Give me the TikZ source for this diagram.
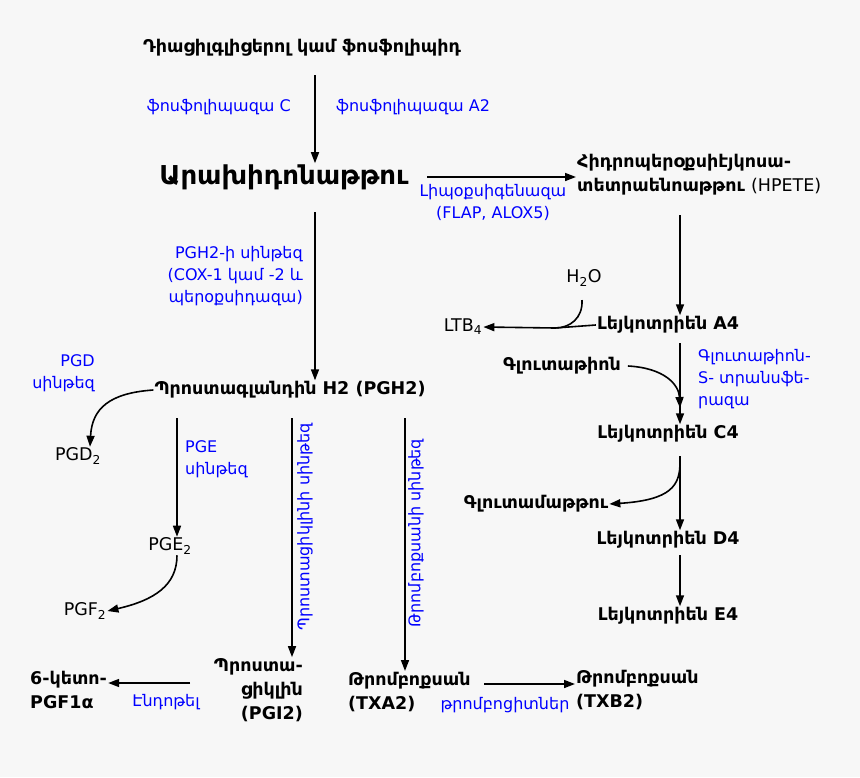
\documentclass[tikz,border=0pt]{standalone}
\usepackage{fontspec}
\setmainfont{DejaVu Sans}
\usetikzlibrary{arrows.meta}
\definecolor{bg}{HTML}{F7F7F7}
\definecolor{lbl}{HTML}{0000FF}
\begin{document}
\begin{tikzpicture}[x=1pt,y=-1pt,
  b/.style={font=\fontsize{17.5}{24}\selectfont\bfseries,inner sep=1pt},
  n/.style={font=\fontsize{17.5}{22}\selectfont,inner sep=1pt},
  e/.style={font=\fontsize{16}{22}\selectfont,text=lbl,inner sep=1pt},
  ar/.style={line width=1.6pt,-{Triangle[length=11pt,width=8pt]}}]
\fill[bg] (0,0) rectangle (860,777);
\node[b] (dag) at (302,48) {Դիացիլգլիցերոլ կամ ֆոսֆոլիպիդ};
\node[e,anchor=east] (plc) at (292,107) {ֆոսֆոլիպազա C};
\node[e,anchor=west] (pla) at (335,107) {ֆոսֆոլիպազա A2};
\node[font=\fontsize{26}{30}\selectfont\bfseries,inner sep=1pt] (ara) at (284,177) {Արախիդոնաթթու};
\node[e,align=center] (lox) at (493,202) {Լիպօքսիգենազա\\(FLAP, ALOX5)};
\node[b,anchor=west,align=left] (hpete) at (576,175) {Հիդրոպերօքսիէյկոսա-\\տետրաենոաթթու \mdseries(HPETE)};
\node[e,anchor=east,align=right] (cox) at (304,276) {PGH2-ի սինթեզ\\(COX-1 կամ -2 և\\պերօքսիդազա)};
\node[n] (h2o) at (584,278) {H\textsubscript{2}O};
\node[n] (ltb) at (463,327) {LTB\textsubscript{4}};
\node[b] (a4) at (668,325) {Լեյկոտրիեն A4};
\node[b] (glut) at (562,366) {Գլուտաթիոն};
\node[e,anchor=west,align=left] (gst) at (697,379) {Գլուտաթիոն-\\S- տրանսֆե-\\րազա};
\node[b] (c4) at (668,434) {Լեյկոտրիեն C4};
\node[b] (glu) at (536,504) {Գլուտամաթթու};
\node[b] (d4) at (668,540) {Լեյկոտրիեն D4};
\node[b] (e4) at (668,616) {Լեյկոտրիեն E4};
\node[b] (pgh) at (290,390) {Պրոստագլանդին H2 (PGH2)};
\node[e,anchor=east,align=right] (pgds) at (96,373) {PGD\\սինթեզ};
\node[n] (pgd2) at (78,456) {PGD\textsubscript{2}};
\node[e,anchor=west,align=left] (pges) at (184,459) {PGE\\սինթեզ};
\node[n] (pge2) at (170,546) {PGE\textsubscript{2}};
\node[n] (pgf2) at (85,611) {PGF\textsubscript{2}};
\node[e,rotate=90] (pgis) at (305,527) {Պրոստացիկլինի սինթեզ};
\node[e,rotate=90] (txas) at (416,533) {Թրոմբոքսանի սինթեզ};
\node[b,anchor=east,align=right] (pgi) at (304,690) {Պրոստա-\\ցիկլին\\(PGI2)};
\node[b,anchor=west,align=left] (keto) at (29,690) {6-կետո-\\PGF1α};
\node[e] (endo) at (166,702) {Էնդոթել};
\node[b,anchor=west,align=left] (txa) at (347,692) {Թրոմբոքսան\\(TXA2)};
\node[e] (plt) at (505,705) {թրոմբոցիտներ};
\node[b,anchor=west,align=left] (txb) at (575,690) {Թրոմբոքսան\\(TXB2)};
% connectors
\coordinate (lt1) at (555,328);
\draw[ar] (315,75) -- (ara.north -| 315,0);
\draw[ar] (427,177) -- (hpete.west |- ara.east);
\draw[ar] (680,215) -- (a4.north -| 680,0);
\draw[ar] (315,212) -- (pgh.north -| 315,0);
\draw[line width=1.6pt] (a4.west) -- (lt1);
\draw[ar] (lt1) -- (ltb.east);
\draw[line width=1.6pt] (582,300) .. controls (583,318) and (570,328) .. (lt1);
\draw[ar] (680,343) -- (c4.north -| 680,0);
\draw[ar] (glut.east) ++(6,0) .. controls (665,368) and (679,385) .. (680,408);
\draw[ar] (680,456) -- (d4.north -| 680,0);
\draw[ar] (680,462) .. controls (680,485) and (672,500) .. (glu.east);
\draw[ar] (680,555) -- (e4.north -| 680,0);
\draw[ar] (pgh.west) .. controls (110,393) and (92,408) .. (pgd2.north -| 90,0);
\draw[ar] (177,418) -- (pge2.north -| 177,0);
\draw[ar] (pge2.south -| 177,0) .. controls (177,585) and (155,600) .. (pgf2.east);
\draw[ar] (292,418) -- (pgi.north -| 292,0);
\draw[ar] (405,418) -- (txa.north -| 405,0);
\draw[ar] (190,683) -- (keto.east |- 0,683);
\draw[ar] (484,684) -- (txb.west |- 0,684);
\end{tikzpicture}
\end{document}
